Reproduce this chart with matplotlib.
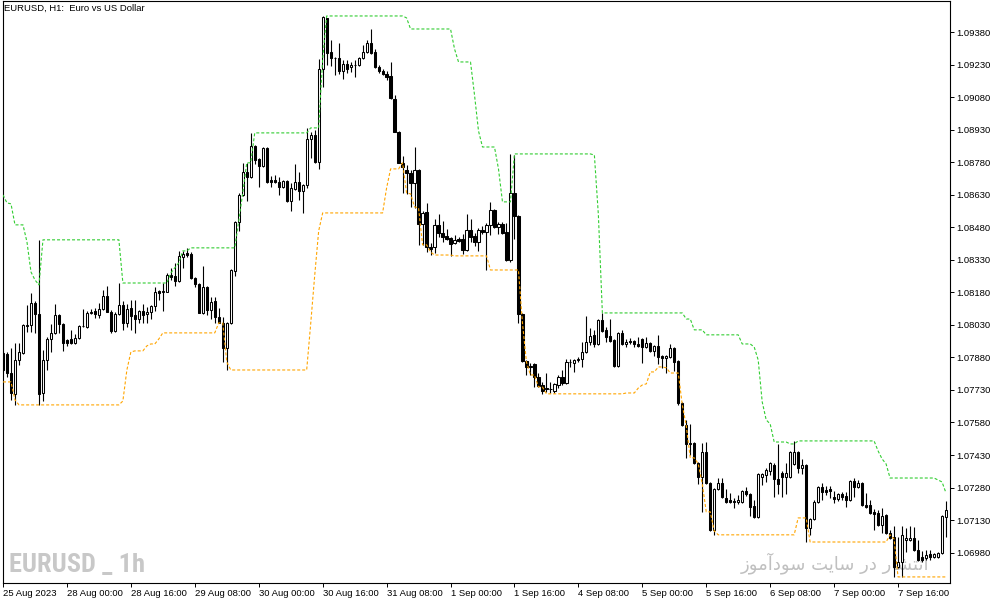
import numpy as np
import pandas as pd
import matplotlib
matplotlib.use("Agg")
import matplotlib.pyplot as plt
from matplotlib import font_manager

# EURUSD H1 bars, 25 Aug 2023 08:00 -> 8 Sep 2023 04:00
opens = [
    1.07901, 1.07896, 1.07808, 1.07712, 1.07868, 1.07901, 1.08025, 1.08030, 1.08131, 1.08080,
    1.07716, 1.07868, 1.07965, 1.07993, 1.08076, 1.08034, 1.07961, 1.07965, 1.07947, 1.07970,
    1.08025, 1.08021, 1.08085, 1.08094, 1.08076, 1.08104, 1.08163, 1.08090, 1.08002, 1.08080,
    1.08122, 1.08039, 1.08108, 1.08076, 1.08057, 1.08094, 1.08080, 1.08090, 1.08117, 1.08186,
    1.08182, 1.08182, 1.08260, 1.08256, 1.08233, 1.08343, 1.08362, 1.08357, 1.08246, 1.08219,
    1.08085, 1.08205, 1.08099, 1.08140, 1.08067, 1.08039, 1.07924, 1.08039, 1.08279, 1.08505,
    1.08629, 1.08735, 1.08712, 1.08855, 1.08795, 1.08763, 1.08845, 1.08698, 1.08698, 1.08689,
    1.08666, 1.08694, 1.08601, 1.08657, 1.08689, 1.08648, 1.08675, 1.08887, 1.08906, 1.08781,
    1.09210, 1.09445, 1.09288, 1.09261, 1.09261, 1.09201, 1.09233, 1.09219, 1.09228, 1.09228,
    1.09261, 1.09288, 1.09330, 1.09288, 1.09219, 1.09201, 1.09187, 1.09178, 1.09072, 1.08919,
    1.08777, 1.08744, 1.08730, 1.08684, 1.08744, 1.08495, 1.08551, 1.08389, 1.08389, 1.08491,
    1.08454, 1.08440, 1.08431, 1.08408, 1.08426, 1.08426, 1.08375, 1.08468, 1.08440, 1.08412,
    1.08468, 1.08458, 1.08491, 1.08560, 1.08482, 1.08495, 1.08458, 1.08329, 1.08638, 1.08532,
    1.08080, 1.07864, 1.07836, 1.07850, 1.07790, 1.07753, 1.07739, 1.07735, 1.07725, 1.07753,
    1.07790, 1.07762, 1.07859, 1.07855, 1.07868, 1.07873, 1.07905, 1.07951, 1.07984, 1.07942,
    1.08053, 1.08007, 1.07979, 1.07961, 1.07841, 1.07993, 1.07942, 1.07956, 1.07956, 1.07942,
    1.07965, 1.07928, 1.07947, 1.07910, 1.07933, 1.07887, 1.07878, 1.07882, 1.07924, 1.07864,
    1.07670, 1.07569, 1.07481, 1.07486, 1.07394, 1.07329, 1.07444, 1.07301, 1.07085, 1.07274,
    1.07301, 1.07232, 1.07223, 1.07218, 1.07214, 1.07214, 1.07264, 1.07251, 1.07195, 1.07145,
    1.07329, 1.07338, 1.07357, 1.07384, 1.07320, 1.07347, 1.07329, 1.07329, 1.07389, 1.07444,
    1.07370, 1.07384, 1.07094, 1.07135, 1.07214, 1.07283, 1.07269, 1.07274, 1.07237, 1.07228,
    1.07251, 1.07241, 1.07223, 1.07311, 1.07283, 1.07301, 1.07200, 1.07200, 1.07168, 1.07163,
    1.07108, 1.07154, 1.07071, 1.07052, 1.06914, 1.06937, 1.07039, 1.07039, 1.07048, 1.06992,
    1.06960, 1.06956, 1.06974, 1.06960, 1.06960, 1.06979, 1.07145,
]
highs = [
    1.07910, 1.07905, 1.07924, 1.07947, 1.07947, 1.08034, 1.08122, 1.08177, 1.08140, 1.08422,
    1.07914, 1.07974, 1.08034, 1.08127, 1.08080, 1.08039, 1.07965, 1.08007, 1.07988, 1.08030,
    1.08104, 1.08094, 1.08104, 1.08108, 1.08131, 1.08191, 1.08210, 1.08099, 1.08090, 1.08223,
    1.08140, 1.08127, 1.08145, 1.08145, 1.08099, 1.08127, 1.08113, 1.08122, 1.08205, 1.08191,
    1.08223, 1.08269, 1.08293, 1.08316, 1.08371, 1.08371, 1.08385, 1.08366, 1.08251, 1.08223,
    1.08302, 1.08210, 1.08159, 1.08159, 1.08108, 1.08067, 1.08043, 1.08288, 1.08509, 1.08638,
    1.08777, 1.08777, 1.08915, 1.08860, 1.08799, 1.08850, 1.08850, 1.08717, 1.08721, 1.08712,
    1.08698, 1.08698, 1.08684, 1.08772, 1.08735, 1.08680, 1.08938, 1.08919, 1.08929, 1.09256,
    1.09454, 1.09445, 1.09344, 1.09265, 1.09330, 1.09251, 1.09251, 1.09242, 1.09251, 1.09265,
    1.09321, 1.09344, 1.09394, 1.09302, 1.09228, 1.09210, 1.09201, 1.09242, 1.09090, 1.08924,
    1.08809, 1.08767, 1.08744, 1.08850, 1.08749, 1.08555, 1.08592, 1.08408, 1.08518, 1.08541,
    1.08509, 1.08472, 1.08435, 1.08445, 1.08435, 1.08449, 1.08541, 1.08518, 1.08454, 1.08477,
    1.08486, 1.08500, 1.08597, 1.08565, 1.08505, 1.08505, 1.08500, 1.08818, 1.08813, 1.08537,
    1.08085, 1.07868, 1.07855, 1.07855, 1.07808, 1.07767, 1.07808, 1.07767, 1.07762, 1.07799,
    1.07822, 1.07873, 1.07873, 1.07873, 1.07882, 1.07951, 1.08071, 1.08016, 1.08007, 1.08057,
    1.08085, 1.08021, 1.08057, 1.07965, 1.07997, 1.08007, 1.07965, 1.07970, 1.07961, 1.07974,
    1.07970, 1.07974, 1.07951, 1.07938, 1.07984, 1.07891, 1.07891, 1.07942, 1.07928, 1.07868,
    1.07675, 1.07592, 1.07573, 1.07490, 1.07398, 1.07486, 1.07490, 1.07306, 1.07278, 1.07324,
    1.07324, 1.07274, 1.07255, 1.07232, 1.07246, 1.07269, 1.07283, 1.07255, 1.07223, 1.07347,
    1.07347, 1.07370, 1.07398, 1.07394, 1.07481, 1.07357, 1.07394, 1.07449, 1.07495, 1.07449,
    1.07412, 1.07389, 1.07140, 1.07223, 1.07288, 1.07301, 1.07288, 1.07288, 1.07264, 1.07255,
    1.07260, 1.07260, 1.07315, 1.07324, 1.07315, 1.07306, 1.07255, 1.07223, 1.07182, 1.07177,
    1.07186, 1.07158, 1.07085, 1.07103, 1.07052, 1.07103, 1.07094, 1.07103, 1.07099, 1.07039,
    1.06988, 1.06992, 1.06992, 1.06979, 1.06983, 1.07154, 1.07218,
]
lows = [
    1.07813, 1.07790, 1.07684, 1.07661, 1.07845, 1.07896, 1.07997, 1.07997, 1.07993, 1.07661,
    1.07679, 1.07822, 1.07905, 1.07988, 1.07993, 1.07910, 1.07933, 1.07942, 1.07942, 1.07965,
    1.08021, 1.08016, 1.08080, 1.08062, 1.08062, 1.08099, 1.08090, 1.07993, 1.07997, 1.08076,
    1.08007, 1.08021, 1.08007, 1.07993, 1.08039, 1.08039, 1.08039, 1.08057, 1.08094, 1.08145,
    1.08094, 1.08182, 1.08237, 1.08210, 1.08228, 1.08293, 1.08343, 1.08242, 1.08205, 1.08085,
    1.08080, 1.08076, 1.08057, 1.08039, 1.08039, 1.07859, 1.07822, 1.08034, 1.08256, 1.08463,
    1.08624, 1.08601, 1.08707, 1.08772, 1.08666, 1.08758, 1.08684, 1.08666, 1.08684, 1.08629,
    1.08661, 1.08597, 1.08555, 1.08652, 1.08606, 1.08546, 1.08661, 1.08799, 1.08777, 1.08749,
    1.09127, 1.09228, 1.09224, 1.09182, 1.09187, 1.09164, 1.09191, 1.09196, 1.09173, 1.09224,
    1.09256, 1.09284, 1.09279, 1.09215, 1.09191, 1.09182, 1.09159, 1.09072, 1.08919, 1.08777,
    1.08638, 1.08634, 1.08574, 1.08569, 1.08399, 1.08399, 1.08366, 1.08352, 1.08362, 1.08435,
    1.08412, 1.08422, 1.08348, 1.08403, 1.08412, 1.08357, 1.08371, 1.08412, 1.08394, 1.08371,
    1.08449, 1.08283, 1.08445, 1.08477, 1.08449, 1.08449, 1.08325, 1.08320, 1.08426, 1.08039,
    1.07859, 1.07799, 1.07799, 1.07744, 1.07744, 1.07712, 1.07721, 1.07716, 1.07716, 1.07739,
    1.07753, 1.07758, 1.07836, 1.07813, 1.07859, 1.07836, 1.07901, 1.07938, 1.07928, 1.07938,
    1.07997, 1.07951, 1.07951, 1.07836, 1.07836, 1.07938, 1.07928, 1.07942, 1.07928, 1.07928,
    1.07855, 1.07924, 1.07905, 1.07887, 1.07850, 1.07832, 1.07808, 1.07878, 1.07818, 1.07661,
    1.07564, 1.07417, 1.07430, 1.07389, 1.07297, 1.07168, 1.07297, 1.07080, 1.07062, 1.07269,
    1.07232, 1.07209, 1.07209, 1.07186, 1.07205, 1.07209, 1.07241, 1.07149, 1.07140, 1.07140,
    1.07292, 1.07306, 1.07338, 1.07237, 1.07251, 1.07237, 1.07251, 1.07324, 1.07384, 1.07347,
    1.07343, 1.07029, 1.07062, 1.07131, 1.07209, 1.07223, 1.07246, 1.07232, 1.07209, 1.07218,
    1.07223, 1.07191, 1.07218, 1.07237, 1.07278, 1.07195, 1.07186, 1.07158, 1.07085, 1.07103,
    1.07071, 1.07066, 1.07043, 1.06868, 1.06910, 1.06868, 1.06983, 1.07034, 1.06988, 1.06942,
    1.06937, 1.06946, 1.06946, 1.06956, 1.06956, 1.06974, 1.07052,
]
closes = [
    1.07822, 1.07808, 1.07716, 1.07868, 1.07905, 1.08030, 1.08030, 1.08131, 1.08080, 1.07712,
    1.07868, 1.07965, 1.07993, 1.08076, 1.08034, 1.07947, 1.07947, 1.07947, 1.07970, 1.08025,
    1.08025, 1.08085, 1.08090, 1.08080, 1.08104, 1.08163, 1.08090, 1.08002, 1.08080, 1.08122,
    1.08039, 1.08104, 1.08071, 1.08057, 1.08094, 1.08076, 1.08090, 1.08117, 1.08182, 1.08177,
    1.08186, 1.08260, 1.08251, 1.08233, 1.08348, 1.08357, 1.08352, 1.08246, 1.08219, 1.08085,
    1.08205, 1.08099, 1.08136, 1.08067, 1.08039, 1.07924, 1.08039, 1.08283, 1.08505, 1.08629,
    1.08735, 1.08712, 1.08855, 1.08790, 1.08763, 1.08845, 1.08689, 1.08689, 1.08689, 1.08666,
    1.08694, 1.08601, 1.08661, 1.08689, 1.08648, 1.08675, 1.08887, 1.08906, 1.08781, 1.09210,
    1.09450, 1.09284, 1.09261, 1.09261, 1.09201, 1.09233, 1.09210, 1.09228, 1.09228, 1.09261,
    1.09288, 1.09330, 1.09284, 1.09219, 1.09201, 1.09187, 1.09173, 1.09076, 1.08919, 1.08777,
    1.08758, 1.08730, 1.08684, 1.08744, 1.08495, 1.08546, 1.08389, 1.08380, 1.08491, 1.08454,
    1.08435, 1.08426, 1.08403, 1.08422, 1.08417, 1.08375, 1.08468, 1.08435, 1.08412, 1.08468,
    1.08458, 1.08491, 1.08560, 1.08482, 1.08495, 1.08454, 1.08329, 1.08638, 1.08532, 1.08080,
    1.07864, 1.07836, 1.07841, 1.07790, 1.07748, 1.07725, 1.07735, 1.07735, 1.07758, 1.07790,
    1.07762, 1.07859, 1.07859, 1.07868, 1.07873, 1.07905, 1.07951, 1.07979, 1.07942, 1.08053,
    1.08002, 1.07974, 1.07956, 1.07841, 1.07993, 1.07942, 1.07951, 1.07951, 1.07942, 1.07933,
    1.07928, 1.07947, 1.07910, 1.07933, 1.07882, 1.07878, 1.07887, 1.07924, 1.07859, 1.07670,
    1.07569, 1.07481, 1.07486, 1.07394, 1.07329, 1.07444, 1.07301, 1.07085, 1.07274, 1.07301,
    1.07237, 1.07214, 1.07214, 1.07214, 1.07223, 1.07264, 1.07251, 1.07191, 1.07145, 1.07343,
    1.07343, 1.07361, 1.07394, 1.07320, 1.07297, 1.07329, 1.07347, 1.07444, 1.07444, 1.07370,
    1.07384, 1.07094, 1.07135, 1.07214, 1.07283, 1.07260, 1.07260, 1.07264, 1.07228, 1.07251,
    1.07237, 1.07223, 1.07311, 1.07283, 1.07301, 1.07200, 1.07191, 1.07163, 1.07158, 1.07108,
    1.07149, 1.07071, 1.07048, 1.06914, 1.06937, 1.07062, 1.07048, 1.07048, 1.06992, 1.06946,
    1.06946, 1.06969, 1.06960, 1.06974, 1.06979, 1.07149, 1.07177,
]

# highs / lows of the 20 bars before the first visible bar (the channel starts from them)
prev_highs = [1.08629, 1.08592, 1.08588, 1.08468, 1.08477, 1.08491, 1.08412, 1.08274, 1.08237, 1.08214,
              1.08145, 1.08090, 1.08053, 1.08062, 1.08007, 1.07984, 1.07961, 1.07938, 1.07924, 1.07914]
prev_lows = [1.08491, 1.08477, 1.08422, 1.08320, 1.08329, 1.08283, 1.08214, 1.08145, 1.08122, 1.08090,
             1.08030, 1.07961, 1.07914, 1.07891, 1.07859, 1.07832, 1.07813, 1.07767, 1.07799, 1.07822]

period = 20

time_ticks = [0, 16, 32, 48, 64, 80, 96, 112, 128, 144, 160, 176, 192, 208, 224]
time_labels = ["25 Aug 2023", "28 Aug 00:00", "28 Aug 16:00", "29 Aug 08:00", "30 Aug 00:00",
               "30 Aug 16:00", "31 Aug 08:00", "1 Sep 00:00", "1 Sep 16:00", "4 Sep 08:00",
               "5 Sep 00:00", "5 Sep 16:00", "6 Sep 08:00", "7 Sep 00:00", "7 Sep 16:00"]
price_ticks = [1.06980, 1.07130, 1.07280, 1.07430, 1.07580, 1.07730, 1.07880, 1.08030, 1.08180,
               1.08330, 1.08480, 1.08630, 1.08780, 1.08930, 1.09080, 1.09230, 1.09380]

title = "EURUSD, H1:  Euro vs US Dollar"
mark_left = "EURUSD _ 1h"
mark_right = "انتشار در سایت سودآموز"


def shape_fa(text):
    # matplotlib has no arabic shaping: pick contextual forms and reverse the order
    forms = {  # isolated, final, initial, medial
        'ا': ('\ufe8d', '\ufe8e', None, None),
        'آ': ('\ufe81', '\ufe82', None, None),
        'ن': ('\ufee5', '\ufee6', '\ufee7', '\ufee8'),
        'ت': ('\ufe95', '\ufe96', '\ufe97', '\ufe98'),
        'ش': ('\ufeb5', '\ufeb6', '\ufeb7', '\ufeb8'),
        'ر': ('\ufead', '\ufeae', None, None),
        'د': ('\ufea9', '\ufeaa', None, None),
        'س': ('\ufeb1', '\ufeb2', '\ufeb3', '\ufeb4'),
        'ی': ('\ufeef', '\ufef0', '\ufef3', '\ufef4'),
        'و': ('\ufeed', '\ufeee', None, None),
        'م': ('\ufee1', '\ufee2', '\ufee3', '\ufee4'),
        'ز': ('\ufeaf', '\ufeb0', None, None),
    }
    out = []
    for k, ch in enumerate(text):
        if ch not in forms:
            out.append(ch)
            continue
        prv = text[k - 1] if k > 0 else ' '
        nxt = text[k + 1] if k + 1 < len(text) else ' '
        join_prev = prv in forms and forms[prv][2] is not None
        join_next = nxt in forms
        iso, fin, ini, med = forms[ch]
        if join_prev and join_next and med:
            out.append(med)
        elif join_prev:
            out.append(fin)
        elif join_next and ini:
            out.append(ini)
        else:
            out.append(iso)
    return ''.join(reversed(out))


avail = {f.name for f in font_manager.fontManager.ttflist}
narrow = next((f for f in ["Liberation Sans Narrow", "DejaVu Sans Condensed", "Roboto Condensed"]
               if f in avail), "DejaVu Sans")

plt.rcParams['font.family'] = ['Liberation Sans', 'DejaVu Sans']

W, H = 1003, 605
fig = plt.figure(figsize=(W / 100, H / 100), dpi=100, facecolor='white')
ax = fig.add_axes([3 / W, (H - 583) / H, 947 / W, 582 / H])

o = np.array(opens)
h = np.array(highs)
l = np.array(lows)
c = np.array(closes)
x = np.arange(len(c))

# donchian style channel of the previous 20 bars
upper = pd.Series(prev_highs + highs).rolling(period).max().shift(1).iloc[period:].values
lower = pd.Series(prev_lows + lows).rolling(period).min().shift(1).iloc[period:].values

ax.vlines(x, l, h, color='black', linewidth=0.8, zorder=2)
up = c >= o
ax.bar(x[up], (c - o)[up], bottom=o[up], width=0.55, facecolor='white',
       edgecolor='black', linewidth=0.75, zorder=3)
ax.bar(x[~up], (o - c)[~up], bottom=c[~up], width=0.55, facecolor='black',
       edgecolor='black', linewidth=0.75, zorder=3)

ax.plot(x, upper, color='#32cd32', linewidth=0.8, linestyle=(0, (2.7, 1.8)), zorder=4)
ax.plot(x, lower, color='#ffa500', linewidth=0.8, linestyle=(0, (2.7, 1.8)), zorder=4)

ax.set_xlim(0.25, 237)
ax.set_ylim(1.06840, 1.09523)

ax.set_xticks(time_ticks)
ax.set_xticklabels(time_labels)
for lab in ax.get_xticklabels():
    lab.set_horizontalalignment('left')
ax.yaxis.tick_right()
ax.set_yticks(price_ticks)
ax.set_yticklabels([f"{p:.5f}" for p in price_ticks])
ax.tick_params(axis='both', direction='out', length=3, width=0.7, labelsize=6.8, pad=1.5)

for s in ax.spines.values():
    s.set_linewidth(0.8)
    s.set_color('black')

# texts
ax.text(4 / W, 1 - 8 / H, title, transform=fig.transFigure, fontsize=6.8,
        ha='left', va='center', zorder=6)
ax.text(9 / W, 1 - 565 / H, mark_left, transform=fig.transFigure, fontsize=19,
        family=narrow, fontweight='bold', color='#c8c8c8', ha='left', va='center', zorder=1)
ax.text(835 / W, 1 - 563 / H, shape_fa(mark_right), transform=fig.transFigure, fontsize=13,
        family='DejaVu Sans', color='#c0c0c0', ha='center', va='center', zorder=1)

fig.savefig('out.png', dpi=100, facecolor='white')
